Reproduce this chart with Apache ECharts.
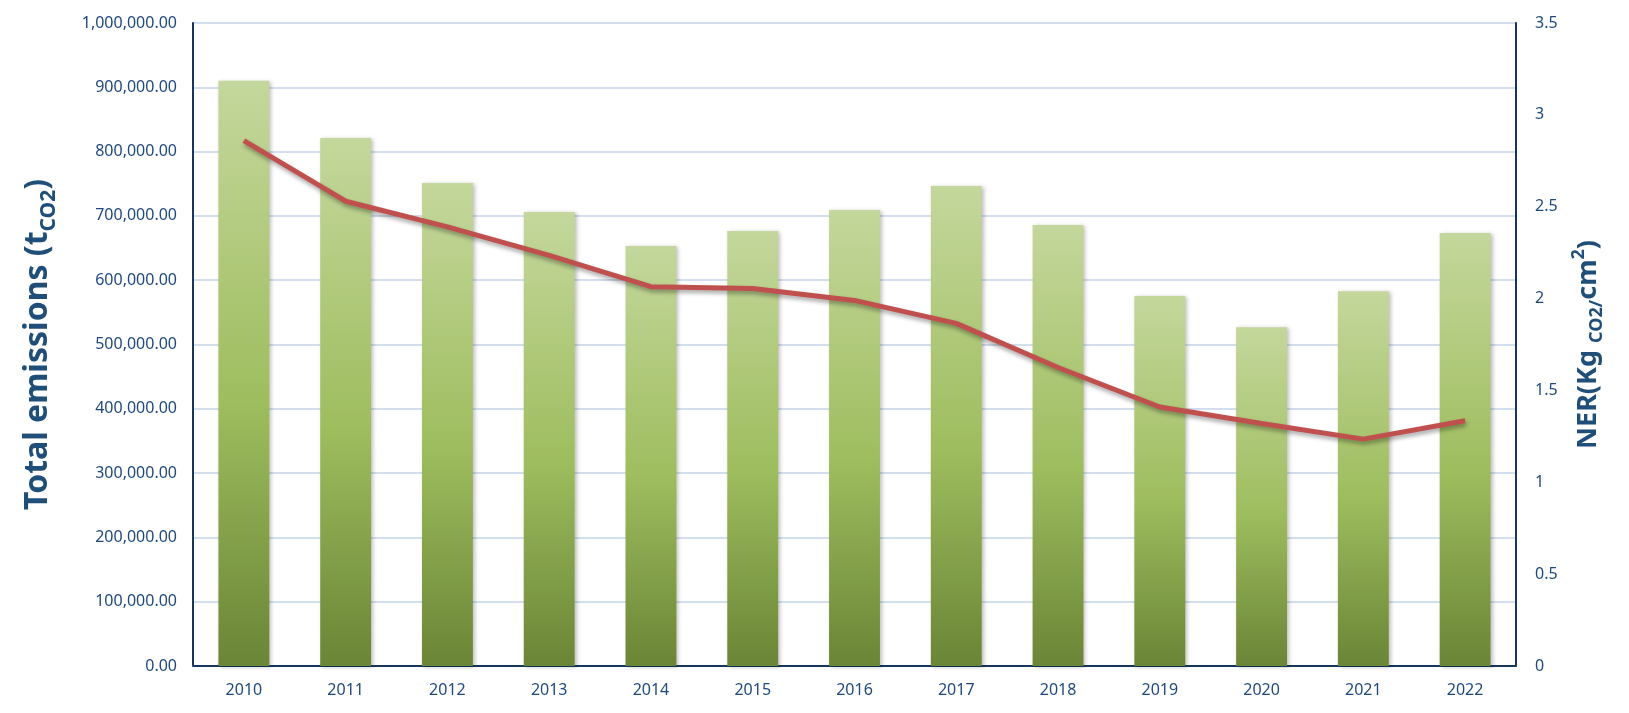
<!DOCTYPE html>
<html>
<head>
<meta charset="utf-8">
<script src="https://cdn.jsdelivr.net/npm/echarts@6/dist/echarts.min.js"></script>
<style>
html,body{margin:0;padding:0;background:#fff;}
#chart{width:1629px;height:713px;}
</style>
</head>
<body>
<div id="chart"></div>
<script>
var years = ['2010','2011','2012','2013','2014','2015','2016','2017','2018','2019','2020','2021','2022'];
var emissions = [910000, 821000, 751000, 706000, 653000, 676500, 709000, 746500, 686000, 575500, 527000, 583000, 673500];
var ner = [2.86, 2.53, 2.39, 2.235, 2.065, 2.055, 1.99, 1.865, 1.625, 1.41, 1.32, 1.235, 1.335];

var labelColor = '#1F497D';
var titleColor = '#1F4E79';
var axisDark = '#17365D';
var gridLight = '#D3DFEF';
var font = 'Noto Sans';

var chart = echarts.init(document.getElementById('chart'));
chart.setOption({
  animation: false,
  backgroundColor: '#fff',
  grid: {left: 193, right: 113, top: 23, bottom: 47, containLabel: false},
  xAxis: [{
    type: 'category',
    data: years,
    position: 'bottom',
    axisLine: {show: true, lineStyle: {color: gridLight, width: 2}},
    axisTick: {show: false},
    axisLabel: {color: labelColor, fontFamily: font, fontSize: 16, margin: 16}
  }, {
    type: 'category',
    data: years,
    position: 'top',
    axisLine: {show: true, lineStyle: {color: axisDark, width: 2}},
    axisTick: {show: false},
    axisLabel: {show: false}
  }],
  yAxis: [{
    type: 'value',
    min: 0, max: 1000000, interval: 100000,
    position: 'left',
    axisLine: {show: true, lineStyle: {color: axisDark, width: 2}},
    axisTick: {show: false},
    splitLine: {show: true, lineStyle: {color: gridLight, width: 2}},
    axisLabel: {
      color: labelColor, fontFamily: font, fontSize: 16, margin: 16,
      formatter: function (v) {
        return v.toLocaleString('en-US', {minimumFractionDigits: 2, maximumFractionDigits: 2});
      }
    },
    name: '{a|Total emissions (t}{s|CO2}{a|)}',
    nameLocation: 'middle',
    nameRotate: 90,
    nameGap: 133,
    nameTextStyle: {
      rich: {
        a: {fontFamily: font, fontWeight: 'bold', fontSize: 32, color: titleColor, lineHeight: 44},
        s: {fontFamily: font, fontWeight: 'bold', fontSize: 21, color: titleColor, lineHeight: 24, verticalAlign: 'bottom'}
      }
    }
  }, {
    type: 'value',
    min: 0, max: 3.5, interval: 0.5,
    position: 'right',
    axisLine: {show: true, lineStyle: {color: axisDark, width: 2}},
    axisTick: {show: false},
    splitLine: {show: false},
    axisLabel: {color: labelColor, fontFamily: font, fontSize: 16, margin: 19},
    name: '{a|NER(Kg }{s|CO2/}{a|cm}{p|2}{a|)}',
    nameLocation: 'middle',
    nameRotate: 90,
    nameGap: 54,
    nameTextStyle: {
      rich: {
        a: {fontFamily: font, fontWeight: 'bold', fontSize: 27, color: titleColor, lineHeight: 36},
        s: {fontFamily: font, fontWeight: 'bold', fontSize: 18, color: titleColor, lineHeight: 24, verticalAlign: 'bottom'},
        p: {fontFamily: font, fontWeight: 'bold', fontSize: 18, color: titleColor, lineHeight: 22, verticalAlign: 'top'}
      }
    }
  }],
  series: [{
    type: 'bar',
    data: emissions,
    barWidth: '50%',
    itemStyle: {
      color: new echarts.graphic.LinearGradient(0, 0, 0, 1, [
        {offset: 0, color: '#C4D79C'},
        {offset: 0.55, color: '#9EBD5E'},
        {offset: 1, color: '#6A8536'}
      ]),
      shadowColor: 'rgba(0,0,0,0.25)',
      shadowBlur: 4,
      shadowOffsetX: 2,
      shadowOffsetY: 1
    }
  }, {
    type: 'line',
    yAxisIndex: 1,
    data: ner,
    symbol: 'none',
    lineStyle: {
      color: '#C0504D', width: 5,
      shadowColor: 'rgba(0,0,0,0.35)', shadowBlur: 4, shadowOffsetX: 1, shadowOffsetY: 3
    },
    z: 5
  }]
});
</script>
</body>
</html>
